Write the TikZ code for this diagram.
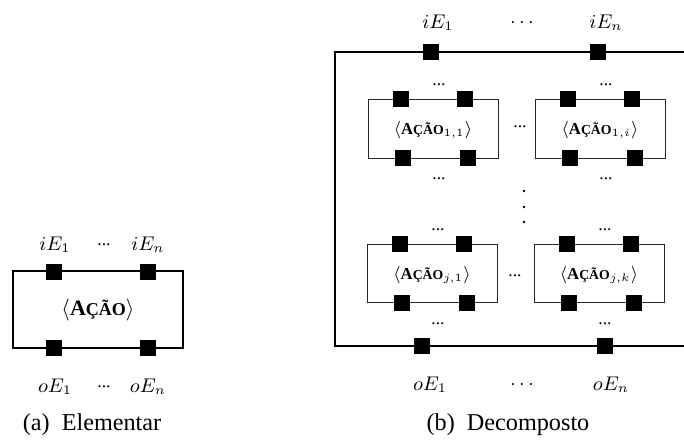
\documentclass[tikz,border=0pt]{standalone}
\usepackage[no-math]{fontspec}
\setmainfont{Liberation Serif}
\usepackage{graphicx}
\usetikzlibrary{positioning}

% bold "Acao" with small caps look
\newcommand{\acao}{\textbf{A\scalebox{0.82}{ÇÃO}}}

\begin{document}
\begin{tikzpicture}[
    x=0.4545pt, y=-0.4545pt, % one unit = one pixel of the layout
    port/.style={fill=black, inner sep=0pt, minimum size=6.9pt}, % black squares
    bigport/.style={port, minimum size=7.7pt}, % squares of (a)
    elembox/.style={line width=0.9pt}, % box of (a)
    outerbox/.style={line width=0.75pt}, % outer box of (b)
    innerbox/.style={line width=0.45pt, black!85}, % inner boxes of (b)
    lbl/.style={font=\small}, % iE / oE labels
    dotsmall/.style={font=\footnotesize, inner sep=0pt}, % small dots
    vdot/.style={circle, fill=black, inner sep=0pt, minimum size=1.3pt}, % vertical dots
    caption/.style={font=\fontsize{11}{13}\selectfont}
]
    \useasboundingbox (0,0) rectangle (684,440);

    % ---- (a) Elementar ----
    \draw[elembox] (13,271) rectangle (183,348);
    \node[font=\normalsize] (acao) at (98,310) {$\langle$\acao$\rangle$};
    \node[bigport] (a-i1) at (54,272) {};
    \node[bigport] (a-in) at (148,272) {};
    \node[bigport] (a-o1) at (54,348) {};
    \node[bigport] (a-on) at (148,348) {};

    % labels
    \node[lbl] (a-li1) at (55,245) {$iE_1$};
    \node[dotsmall] (a-lid) at (104,245) {...};
    \node[lbl] (a-lin) at (148,245) {$iE_n$};
    \node[lbl] (a-lo1) at (55,387) {$oE_1$};
    \node[dotsmall] (a-lod) at (104,387) {...};
    \node[lbl] (a-lon) at (148,387) {$oE_n$};

    \node[caption] (capa) at (92,425) {(a)\ \ Elementar};

    % ---- (b) Decomposto ----
    % outer box, right side runs off the page
    \draw[outerbox] (700,52) -- (335,52) -- (335,346) -- (700,346);
    \node[port] (b-i1) at (431,52) {};
    \node[port] (b-in) at (598,52) {};
    \node[port] (b-o1) at (422,346) {};
    \node[port] (b-on) at (605,346) {};

    \node[lbl] (b-li1) at (438,23) {$iE_1$};
    \node[lbl] (b-lid) at (522,23) {$\cdots$};
    \node[lbl] (b-lin) at (606,23) {$iE_n$};
    \node[lbl] (b-lo1) at (430,385) {$oE_1$};
    \node[lbl] (b-lod) at (522,385) {$\cdots$};
    \node[lbl] (b-lon) at (611,385) {$oE_n$};

    % inner boxes: left / top / name / subscript
    \foreach \l/\t/\n/\s in {368/99/a11/{1,1}, 535/99/a1i/{1,i},
                             367/244/aj1/{j,1}, 534/244/ajk/{j,k}} {
        \draw[innerbox] (\l,\t) rectangle ++(130,59);
        \node[font=\fontsize{7.6}{9}\selectfont] (\n) at (\l+65,\t+31) {$\langle$\acao$_{\s}\rangle$};
        \node[port] (\n-i1) at (\l+33,\t) {};
        \node[port] (\n-in) at (\l+97,\t) {};
        \node[port] (\n-o1) at (\l+35,\t+59) {};
        \node[port] (\n-on) at (\l+100,\t+59) {};
        \node[dotsmall] (\n-up) at (\l+71,\t-14) {...};
        \node[dotsmall] (\n-dn) at (\l+71,\t+80) {...};
    }

    % dots between the boxes
    \node[dotsmall] (row1) at (520,127) {...};
    \node[dotsmall] (rowj) at (515,276) {...};
    \foreach \y [count=\i] in {191,207,222}
        \node[vdot] (col\i) at (524,\y) {};

    \node[caption] (capb) at (508,425) {(b)\ \ Decomposto};
\end{tikzpicture}
\end{document}
